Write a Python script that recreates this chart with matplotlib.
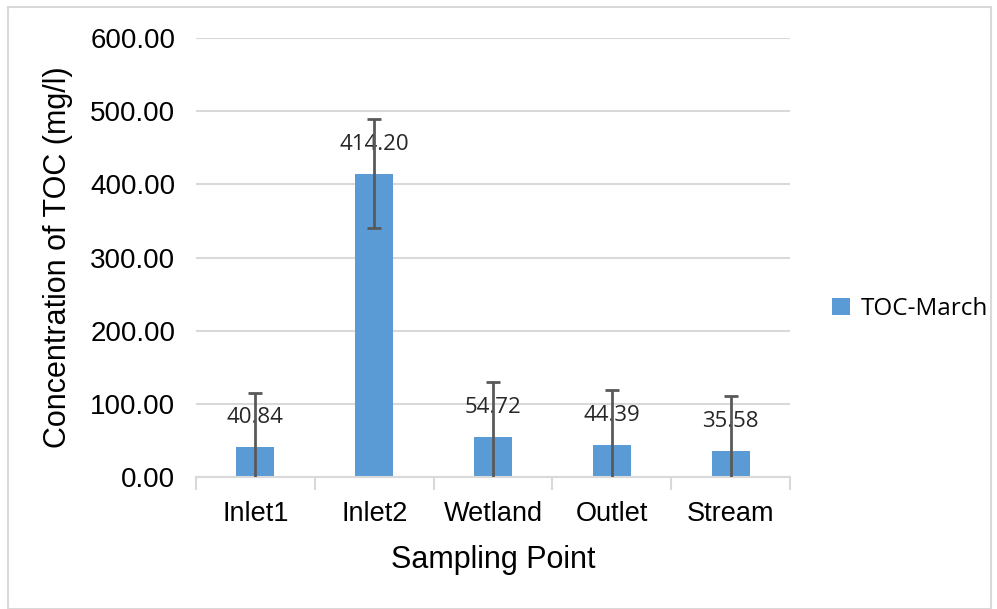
import numpy as np
import matplotlib.pyplot as plt
from matplotlib.patches import Rectangle

categories = ['Inlet1', 'Inlet2', 'Wetland', 'Outlet', 'Stream']
toc_march = [40.84, 414.20, 54.72, 44.39, 35.58]
toc_err = [74.5, 74.5, 74.5, 74.5, 74.5]
y_ticks = [0, 100, 200, 300, 400, 500, 600]

W, H = 997, 609
fig = plt.figure(figsize=(W / 100, H / 100), dpi=100)
fig.patches.append(Rectangle((8 / W, 0), 983 / W, 1 - 7 / H, transform=fig.transFigure,
                             fill=False, edgecolor='#D9D9D9', linewidth=1.5))

ax = fig.add_axes([196 / W, 1 - 477 / H, 594 / W, 439 / H])
x = np.arange(len(categories))
bars = ax.bar(x, toc_march, width=0.32, color='#5B9BD5', label='TOC-March', zorder=2)
ax.errorbar(x, toc_march, yerr=toc_err, fmt='none', ecolor='#595959', elinewidth=2,
            capsize=5, capthick=2, zorder=3)

for xi, v in zip(x, toc_march):
    ax.annotate(f'{v:.2f}', (xi, v), xytext=(0, 21), textcoords='offset points',
                ha='center', va='center', fontsize=16, family='Open Sans', color='#262626',
                zorder=1)

ax.set_xlim(-0.5, len(categories) - 0.5)
ax.set_ylim(0, 600)
ax.set_yticks(y_ticks)
ax.set_yticklabels([f'{t:.2f}' for t in y_ticks], family='Liberation Sans', fontsize=20)
ax.yaxis.grid(True, color='#D9D9D9', linewidth=1.5, zorder=0)
ax.set_axisbelow(True)
ax.tick_params(axis='y', length=0, pad=15)

ax.set_xticks(x)
ax.set_xticklabels(categories, family='Liberation Sans', fontsize=19.5)
ax.set_xticks(np.arange(-0.5, len(categories)), minor=True)
ax.tick_params(axis='x', which='major', length=0, pad=17)
ax.tick_params(axis='x', which='minor', length=9, width=1.5, color='#D9D9D9')

for s in ['top', 'right', 'left']:
    ax.spines[s].set_visible(False)
ax.spines['bottom'].set_color('#D9D9D9')
ax.spines['bottom'].set_linewidth(1.5)

ax.set_xlabel('Sampling Point', family='Liberation Sans', fontsize=22, labelpad=13)
ax.set_ylabel('Concentration of TOC (mg/l)', family='Liberation Sans', fontsize=22, labelpad=12)

fig.legend(handles=[bars], loc='center left', bbox_to_anchor=(810 / W, 1 - 309 / H),
           frameon=False, prop={'family': 'Open Sans', 'size': 17.5},
           handlelength=0.75, handleheight=0.75, handletextpad=0.45)

fig.savefig('out.png', dpi=100)
